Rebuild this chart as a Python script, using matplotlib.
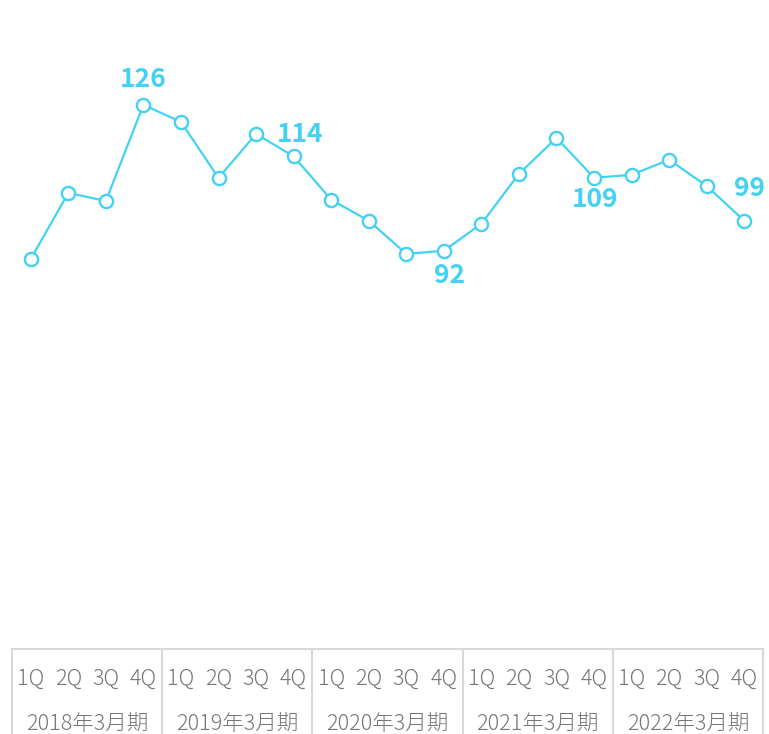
import matplotlib
matplotlib.use('Agg')
import matplotlib.pyplot as plt
from matplotlib.lines import Line2D

plt.rcParams['font.family'] = ['Noto Sans CJK JP', 'DejaVu Sans']

quarters = ['1Q', '2Q', '3Q', '4Q']
years = ['2018年3月期', '2019年3月期', '2020年3月期', '2021年3月期', '2022年3月期']
values = [90.1, 105.5, 103.6, 126, 122.0, 109.0, 119.2, 114, 103.9, 99.0,
          91.3, 92, 98.3, 109.9, 118.3, 109, 109.7, 113.2, 107.1, 99]
# index of labelled point -> (text, dx px, dy px)
labels = {3: ('126', 0, 25), 7: ('114', 7, 22), 11: ('92', 6, -25),
          15: ('109', 1, -22), 19: ('99', 5, 32)}

color = '#44d2f4'
W, H = 769, 734
fig = plt.figure(figsize=(W / 100, H / 100), dpi=100)

left, right, base = 12, 763, 648.5
ax = fig.add_axes([left / W, (H - base) / H, (right - left) / W, base / H])
x = list(range(len(values)))
ax.plot(x, values, color=color, lw=1.6, marker='o', ms=9.5,
        mfc='white', mec=color, mew=1.7, zorder=3)
for i, (t, dx, dy) in labels.items():
    ax.annotate(t, (i, values[i]), xytext=(dx * 0.72, dy * 0.72),
                textcoords='offset points', ha='center', va='center',
                fontsize=19, fontweight='bold', color=color)
ax.set_xlim(-0.5, len(values) - 0.5)
ax.set_ylim(-0.6, 150.4)
ax.axis('off')

# category table below the plot
lc = '#d9d9d9'
def fx(px):
    return px / W
def fy(py):
    return (H - py) / H

fig.add_artist(Line2D([fx(left), fx(right)], [fy(base), fy(base)], color=lc, lw=1.5))
step = (right - left) / len(values)
for g in range(len(years) + 1):
    xp = left + g * 4 * step
    fig.add_artist(Line2D([fx(xp), fx(xp)], [fy(base), 0], color=lc, lw=1.5))
for i in range(len(values)):
    fig.text(fx(left + (i + 0.5) * step), fy(679), quarters[i % 4],
             ha='center', va='center', fontsize=15.5, color='#777777',
             fontweight='light')
for g, yl in enumerate(years):
    fig.text(fx(left + (g * 4 + 2) * step), fy(724.5), yl,
             ha='center', va='center', fontsize=15.5, color='#777777',
             fontweight='light')

fig.savefig('out.png', dpi=100)
